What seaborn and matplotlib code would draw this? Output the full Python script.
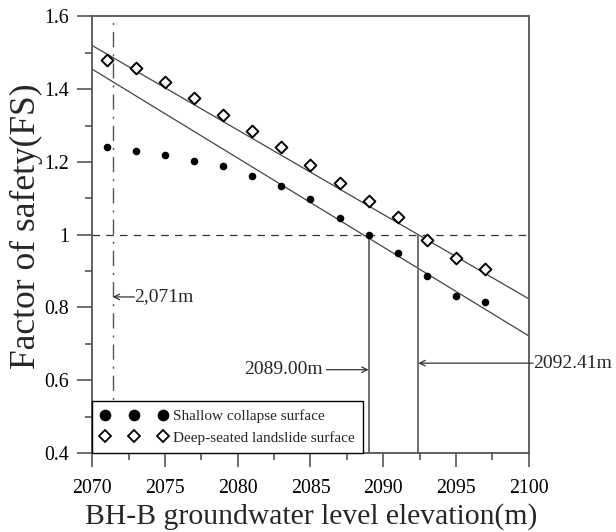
import numpy as np
import pandas as pd
import matplotlib
matplotlib.use("Agg")
import matplotlib.pyplot as plt
from matplotlib.lines import Line2D
from matplotlib.ticker import FixedLocator, MultipleLocator, FixedFormatter
import seaborn as sns

# ---- data ----
elev = [2071, 2073, 2075, 2077, 2079, 2081, 2083, 2085, 2087, 2089, 2091, 2093, 2095, 2097]
fs_shallow = [1.240, 1.231, 1.219, 1.204, 1.188, 1.162, 1.135, 1.098, 1.046, 1.000, 0.951, 0.887, 0.832, 0.814]
fs_deep = [1.481, 1.459, 1.421, 1.375, 1.329, 1.284, 1.240, 1.192, 1.142, 1.094, 1.048, 0.986, 0.937, 0.907]
fit_x = [2070, 2100]
fit_shallow = [1.455, 0.722]
fit_deep = [1.520, 0.824]
crit_shallow = 2089.00
crit_deep = 2092.41
ref_elev = 2071.4
ytick_vals = [0.4, 0.6, 0.8, 1.0, 1.2, 1.4, 1.6]
ytick_labels = ["0.4", "0.6", "0.8", "1", "1.2", "1.4", "1.6"]
xtick_vals = [2070, 2075, 2080, 2085, 2090, 2095, 2100]
xtick_labels = ["2070", "2075", "2080", "2085", "2090", "2095", "2100"]

df = pd.DataFrame({"elev": elev, "shallow": fs_shallow, "deep": fs_deep})
fit_df = pd.DataFrame({"x": fit_x, "shallow": fit_shallow, "deep": fit_deep})

sns.set_style("ticks")
plt.rcParams["font.family"] = ["Liberation Serif", "DejaVu Serif"]
plt.rcParams["axes.edgecolor"] = "#555555"
plt.rcParams["xtick.color"] = "#555555"
plt.rcParams["ytick.color"] = "#555555"
plt.rcParams["xtick.labelcolor"] = "black"
plt.rcParams["ytick.labelcolor"] = "black"
plt.rcParams["xtick.direction"] = "out"
plt.rcParams["ytick.direction"] = "out"
plt.rcParams["xtick.major.size"] = 10
plt.rcParams["ytick.major.size"] = 10.5
plt.rcParams["xtick.minor.size"] = 5
plt.rcParams["ytick.minor.size"] = 5
plt.rcParams["xtick.major.width"] = 1.2
plt.rcParams["ytick.major.width"] = 1.2
plt.rcParams["xtick.minor.width"] = 1.2
plt.rcParams["ytick.minor.width"] = 1.2
plt.rcParams["xtick.major.pad"] = 8.5
plt.rcParams["ytick.major.pad"] = 6.5
plt.rcParams["xtick.labelsize"] = 14.3
plt.rcParams["ytick.labelsize"] = 14.3

fig = plt.figure(figsize=(6.16, 5.32), dpi=100)
ax = fig.add_axes([0.1498, 0.1485, 0.7085, 0.8205])

line_c = "#444444"
sns.lineplot(data=fit_df, x="x", y="deep", ax=ax, color=line_c, lw=0.9, legend=False)
sns.lineplot(data=fit_df, x="x", y="shallow", ax=ax, color=line_c, lw=0.9, legend=False)

sns.scatterplot(data=df, x="elev", y="shallow", ax=ax, marker="o", s=30,
                color="black", edgecolor="black", linewidth=0, zorder=5, legend=False)
sns.scatterplot(data=df, x="elev", y="deep", ax=ax, marker="D", s=36,
                facecolor="white", edgecolor="black", linewidth=1.4, zorder=5, legend=False)

# reference lines
ax.axhline(1.0, color="#333333", lw=0.9, ls=(0, (6, 5)), zorder=1)
ax.axvline(ref_elev, color="#555555", lw=1.0, ls=(0, (11, 5, 1.5, 5)), zorder=1)
ax.vlines([crit_shallow, crit_deep], 0.4, 1.0, color="#666666", lw=1.3, zorder=2)

# annotations
ax.annotate("", xy=(ref_elev, 0.829), xytext=(2072.9, 0.829),
            arrowprops=dict(arrowstyle="->", color="#333333", lw=0.9, shrinkA=0, shrinkB=0))
ax.text(2072.9, 0.829, "2,071m", ha="left", va="center", fontsize=14)

ax.annotate("", xy=(crit_shallow, 0.629), xytext=(2086.1, 0.629),
            arrowprops=dict(arrowstyle="->", color="#333333", lw=0.9, shrinkA=0, shrinkB=0))
ax.text(2085.85, 0.629, "2089.00m", ha="right", va="center", fontsize=14)

ax.annotate("", xy=(crit_deep, 0.647), xytext=(2100.3, 0.647), annotation_clip=False,
            arrowprops=dict(arrowstyle="->", color="#333333", lw=0.9, shrinkA=0, shrinkB=0))
ax.text(2100.3, 0.647, "2092.41m", ha="left", va="center", fontsize=14, clip_on=False)

# axes formatting
ax.set_xlim(2070, 2100)
ax.set_ylim(0.4, 1.6)
ax.xaxis.set_major_locator(FixedLocator(xtick_vals))
ax.xaxis.set_major_formatter(FixedFormatter(xtick_labels))
ax.xaxis.set_minor_locator(MultipleLocator(2.5))
ax.yaxis.set_major_locator(FixedLocator(ytick_vals))
ax.yaxis.set_major_formatter(FixedFormatter(ytick_labels))
ax.yaxis.set_minor_locator(MultipleLocator(0.1))
for sp in ax.spines.values():
    sp.set_linewidth(1.3)
    sp.set_visible(True)

ax.set_xlabel("BH-B groundwater level elevation(m)", fontsize=21.3)
ax.set_ylabel("Factor of safety(FS)", fontsize=25.5)
ax.xaxis.set_label_coords(0.501, -0.1155)
ax.yaxis.set_label_coords(-0.113, 0.519)

handles = [
    Line2D([], [], ls="none", marker="o", markersize=8.4, color="black", markeredgewidth=0),
    Line2D([], [], ls="none", marker="D", markersize=6.3, markerfacecolor="white",
           markeredgecolor="black", markeredgewidth=1.3),
]
leg = ax.legend(handles, ["Shallow collapse surface", "Deep-seated landslide surface"],
                loc="lower left", bbox_to_anchor=(0, 0), borderaxespad=0,
                numpoints=3, handlelength=4.36, handletextpad=0.35, fontsize=11,
                frameon=True, fancybox=False, edgecolor="black", framealpha=1,
                borderpad=0.55, labelspacing=0.5)
leg.get_frame().set_linewidth(1.0)

fig.savefig("out.png", dpi=100)
